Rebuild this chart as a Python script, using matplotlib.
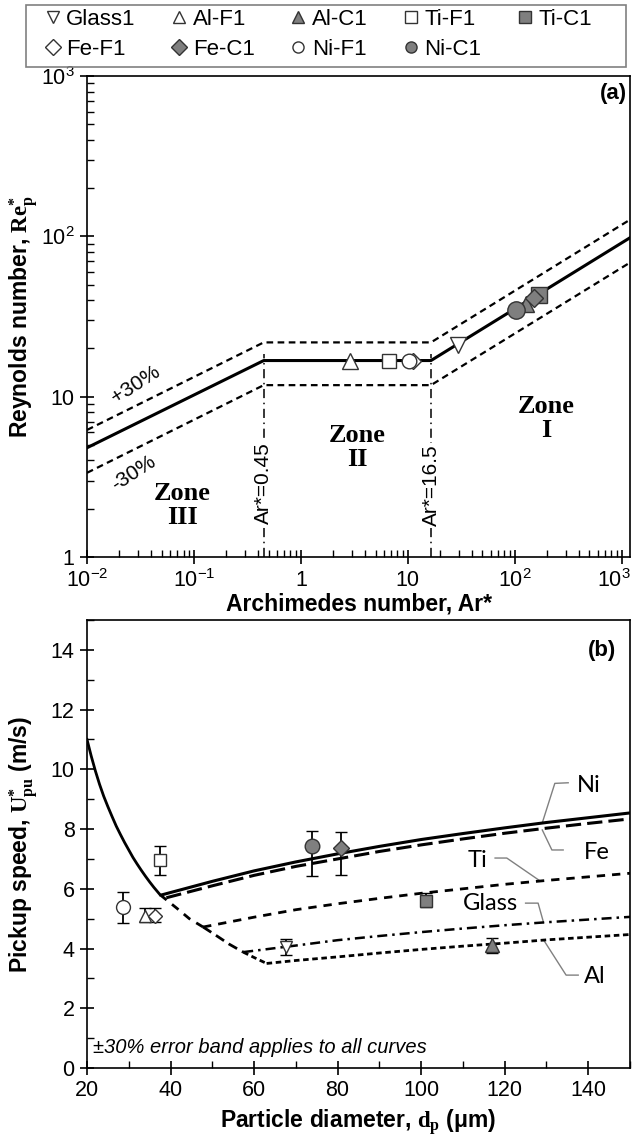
import numpy as np
import matplotlib
matplotlib.use('Agg')
import matplotlib.pyplot as plt
from matplotlib.lines import Line2D
from matplotlib.patches import Rectangle
from matplotlib.transforms import offset_copy
from matplotlib.ticker import MultipleLocator, LogLocator, NullFormatter, FixedLocator

plt.rcParams['font.family'] = ['Liberation Sans', 'DejaVu Sans']
plt.rcParams['mathtext.fontset'] = 'custom'
plt.rcParams['mathtext.rm'] = 'Liberation Serif'
plt.rcParams['mathtext.it'] = 'Liberation Serif:italic'
plt.rcParams['mathtext.bf'] = 'Liberation Serif:bold'

# ---- panel (a): Re*_p vs Ar*
ar_break = [0.01, 0.45, 16.5, 1200]
re_main = [4.8, 16.8, 16.8, 98]
re_upper = [6.2, 21.8, 21.8, 127]
re_lower = [3.35, 11.8, 11.8, 68.6]
ar_zone_limits = [0.45, 16.5]

names = ['Glass1', 'Al-F1', 'Al-C1', 'Ti-F1', 'Ti-C1', 'Fe-F1', 'Fe-C1', 'Ni-F1', 'Ni-C1']
ar_pts = [29.7, 2.9, 129, 6.7, 170, 11.2, 153, 10.3, 104]
re_pts = [21, 16.8, 38, 16.8, 43, 16.8, 41, 16.8, 34.5]

# ---- panel (b): pickup speed vs particle diameter
dp_pts = [67.7, 33.8, 117, 37.5, 101.2, 36.2, 80.9, 28.6, 73.9]
u_pts = [4.05, 5.1, 4.12, 6.95, 5.6, 5.1, 7.35, 5.4, 7.42]
u_err_lo = [0.27, 0.22, 0.27, 0.5, 0.2, 0.22, 0.9, 0.55, 1.0]
u_err_hi = [0.28, 0.25, 0.23, 0.48, 0.25, 0.25, 0.55, 0.5, 0.5]

d_left = [20, 21, 22, 23, 24, 25, 26, 27, 28, 29, 30, 31, 32, 33, 34, 35, 36, 37.5,
          41.5, 44.5, 47.8, 51, 54, 57.4, 60, 63]
u_left = [11.0, 10.45, 9.95, 9.5, 9.1, 8.75, 8.42, 8.1, 7.82, 7.55, 7.3, 7.05, 6.83,
          6.62, 6.42, 6.23, 6.05, 5.8, 5.35, 5.0, 4.72, 4.43, 4.15, 3.88, 3.7, 3.5]
d_ni = [38, 50, 60, 70, 80, 90, 100, 110, 120, 130, 140, 150]
u_ni = [5.8, 6.25, 6.6, 6.9, 7.17, 7.42, 7.65, 7.85, 8.04, 8.22, 8.38, 8.54]
d_fe = [39, 50, 60, 70, 80, 90, 100, 110, 120, 130, 140, 150]
u_fe = [5.7, 6.1, 6.45, 6.75, 7.0, 7.25, 7.47, 7.67, 7.86, 8.03, 8.19, 8.34]
d_ti = [47.8, 60, 70, 80, 90, 100, 110, 120, 130, 140, 150]
u_ti = [4.72, 5.05, 5.3, 5.5, 5.68, 5.85, 6.0, 6.15, 6.28, 6.4, 6.52]
d_glass = [57.4, 70, 80, 90, 100, 110, 120, 130, 140, 150]
u_glass = [3.88, 4.1, 4.28, 4.42, 4.55, 4.67, 4.78, 4.88, 4.97, 5.06]
d_al = [63, 70, 80, 90, 100, 110, 120, 130, 140, 150]
u_al = [3.5, 3.6, 3.72, 3.85, 3.97, 4.08, 4.18, 4.29, 4.38, 4.47]

# marker styles
markers = ['v', '^', '^', 's', 's', 'D', 'D', 'o', 'o']
filled = [False, False, True, False, True, False, True, False, True]
GRAY = '#7f7f7f'
EDGE = '#333333'
faces = [GRAY if f else 'white' for f in filled]
ms_a = [11, 11, 12, 10, 11, 8.5, 9.5, 10.5, 12.5]
ms_b = [8, 8, 9.5, 8, 8, 7, 8, 10, 10.5]

fig = plt.figure(figsize=(6.33, 11.36), dpi=100)
W, H = 633, 1136


def px_box(l, t, r, b):
    return [l / W, 1 - b / H, (r - l) / W, (b - t) / H]


ax1 = fig.add_axes(px_box(87, 76, 630, 557))
ax2 = fig.add_axes(px_box(87, 620, 630, 1068))

for ax in (ax1, ax2):
    for s in ax.spines.values():
        s.set_linewidth(1.2)
    ax.tick_params(which='major', direction='inout', length=10, width=1.2,
                   labelsize=15.5, pad=4)
    ax.tick_params(which='minor', direction='in', length=5, width=1)

# ---------------- panel (a)
ax1.set_xscale('log')
ax1.set_yscale('log')
ax1.plot(ar_break, re_main, color='black', lw=2.2, zorder=3)
ax1.plot(ar_break, re_upper, color='black', lw=1.6, ls=(0, (3, 2)), zorder=2)
ax1.plot(ar_break, re_lower, color='black', lw=1.6, ls=(0, (3, 2)), zorder=2)
for xv in ar_zone_limits:
    ax1.plot([xv, xv], [1, 18.5], color='black', lw=1.1, ls=(0, (6, 3, 1, 3)), zorder=1)

for i in range(len(names)):
    ax1.plot(ar_pts[i], re_pts[i], ls='none', marker=markers[i], ms=ms_a[i],
             mfc=faces[i], mec=EDGE, mew=1, zorder=5 if filled[i] else 4)

ax1.set_xlim(0.01, 1200)
ax1.set_ylim(1, 1000)
ax1.xaxis.set_major_locator(FixedLocator([0.01, 0.1, 1, 10, 100, 1000]))
ax1.set_xticklabels([r'$\mathdefault{10^{-2}}$', r'$\mathdefault{10^{-1}}$', '1', '10',
                     r'$\mathdefault{10^{2}}$', r'$\mathdefault{10^{3}}$'])
ax1.yaxis.set_major_locator(FixedLocator([1, 10, 100, 1000]))
ax1.set_yticklabels(['1', '10', r'$\mathdefault{10^{2}}$', r'$\mathdefault{10^{3}}$'])
ax1.xaxis.set_minor_locator(LogLocator(base=10, subs=np.arange(2, 10), numticks=30))
ax1.yaxis.set_minor_locator(LogLocator(base=10, subs=np.arange(2, 10), numticks=30))
ax1.xaxis.set_minor_formatter(NullFormatter())
ax1.yaxis.set_minor_formatter(NullFormatter())
# keep the last x label inside the figure
last = ax1.get_xticklabels()[-1]
last.set_horizontalalignment('right')
last.set_transform(offset_copy(last.get_transform(), fig=fig, x=9, y=0, units='dots'))

ax1.set_ylabel(r'Reynolds number, $\mathbf{Re}_{\mathbf{p}}^{\mathbf{*}}$',
               fontsize=16.5, fontweight='bold')
ax1.set_xlabel('Archimedes number, Ar*', fontsize=16.5, fontweight='bold')
ax1.yaxis.set_label_coords(-0.085, 0.5)
ax1.xaxis.set_label_coords(0.5, -0.073)

ax1.text(0.994, 0.985, '(a)', transform=ax1.transAxes, ha='right', va='top',
         fontsize=16, fontweight='bold')

zone_kw = dict(ha='center', va='center', family='Liberation Serif',
               fontweight='bold', fontsize=19, linespacing=1.05)
ax1.text(0.078, 2.1, 'Zone\nIII', **zone_kw)
ax1.text(3.35, 4.8, 'Zone\nII', **zone_kw)
ax1.text(199, 7.3, 'Zone\nI', **zone_kw)

lim_kw = dict(rotation=90, ha='center', va='center', fontsize=15,
              bbox=dict(facecolor='white', edgecolor='none', pad=1))
ax1.text(ar_zone_limits[0], 2.9, 'Ar*=0.45', **lim_kw)
ax1.text(ar_zone_limits[1], 2.8, 'Ar*=16.5', **lim_kw)
ax1.text(0.0283, 11.9, '+30%', rotation=33, ha='center', va='center', fontsize=15)
ax1.text(0.0273, 3.35, '-30%', rotation=33, ha='center', va='center', fontsize=15)

# ---------------- panel (b)
DASH_FE = (0, (5, 2))
DASH_TI = (0, (3, 2.5))
DASH_GL = (0, (4, 2, 1, 2))
DASH_AL = (0, (2, 1.3))

ax2.plot(d_left[:18], u_left[:18], color='black', lw=2, zorder=3)
ax2.plot(d_left[17:21], u_left[17:21], color='black', lw=2, ls=DASH_TI, zorder=3)
ax2.plot(d_left[20:24], u_left[20:24], color='black', lw=2, ls=(0, (3.5, 2)), zorder=3)
ax2.plot(d_left[23:], u_left[23:], color='black', lw=2, ls=DASH_AL, zorder=3)
ax2.plot(d_ni, u_ni, color='black', lw=2.2, zorder=3)
ax2.plot(d_fe, u_fe, color='black', lw=2.2, ls=DASH_FE, zorder=3)
ax2.plot(d_ti, u_ti, color='black', lw=2, ls=DASH_TI, zorder=3)
ax2.plot(d_glass, u_glass, color='black', lw=1.8, ls=DASH_GL, zorder=3)
ax2.plot(d_al, u_al, color='black', lw=2, ls=DASH_AL, zorder=3)

for i in range(len(names)):
    ax2.errorbar(dp_pts[i], u_pts[i], yerr=[[u_err_lo[i]], [u_err_hi[i]]],
                 fmt=markers[i], ms=ms_b[i], mfc=faces[i], mec=EDGE, mew=1,
                 ecolor='black', elinewidth=1.3, capsize=4.5, capthick=1.3, zorder=5)

# curve labels with leader lines
lab_kw = dict(fontsize=17, family=['Lato', 'DejaVu Sans'], va='center')
lead_kw = dict(color='#808080', lw=1, zorder=2)
ax2.plot([129.0, 132.0, 135.2], [8.21, 9.53, 9.55], **lead_kw)
ax2.text(137.4, 9.47, 'Ni', ha='left', **lab_kw)
ax2.plot([129.0, 131.3, 134.0], [7.97, 7.3, 7.3], **lead_kw)
ax2.text(139, 7.23, 'Fe', ha='left', **lab_kw)
ax2.plot([117.7, 120.5, 128.5], [7.03, 7.03, 6.26], **lead_kw)
ax2.text(113.6, 6.96, 'Ti', ha='center', **lab_kw)
ax2.plot([125.0, 128.0, 129.3], [5.52, 5.52, 4.87], **lead_kw)
ax2.text(116.5, 5.52, 'Glass', ha='center', **lab_kw)
ax2.plot([129.3, 134.7, 137.6], [4.29, 3.11, 3.11], **lead_kw)
ax2.text(139, 3.05, 'Al', ha='left', **lab_kw)

ax2.text(21.4, 0.7, '±30% error band applies to all curves', style='italic',
         fontsize=14.5, va='center', ha='left')

ax2.set_xlim(20, 150)
ax2.set_ylim(0, 15)
ax2.xaxis.set_major_locator(FixedLocator(list(range(20, 141, 20))))
ax2.xaxis.set_minor_locator(MultipleLocator(10))
ax2.yaxis.set_major_locator(FixedLocator(list(range(0, 15, 2))))
ax2.yaxis.set_minor_locator(MultipleLocator(1))
ax2.set_ylabel(r'Pickup speed, $\mathbf{U^{*}_{pu}}$ (m/s)', fontsize=16.5, fontweight='bold')
ax2.set_xlabel(r'Particle diameter, $\mathbf{d_{p}}$ (μm)', fontsize=16.5, fontweight='bold')
ax2.yaxis.set_label_coords(-0.085, 0.5)
ax2.xaxis.set_label_coords(0.5, -0.088)
ax2.text(0.974, 0.955, '(b)', transform=ax2.transAxes, ha='right', va='top',
         fontsize=16, fontweight='bold')

# ---------------- legend (row-major order as in the figure)
handles = [Line2D([], [], ls='none', marker=markers[i], ms=8, mfc=faces[i],
                  mec=EDGE, mew=1) for i in range(len(names))]
order = [0, 5, 1, 6, 2, 7, 3, 8, 4]
fig.legend([handles[i] for i in order], [names[i] for i in order],
           ncol=5, loc='upper left', bbox_to_anchor=(45 / W, 1 - 9 / H),
           fontsize=16, handlelength=0.7, handletextpad=0.25,
           columnspacing=1.62, borderpad=0, labelspacing=0.4,
           frameon=False, borderaxespad=0)
fig.patches.append(Rectangle((26 / W, 1 - 67 / H), 600 / W, 62 / H,
                             transform=fig.transFigure, fill=False,
                             edgecolor='#808080', linewidth=1.2))

fig.savefig('out.png', dpi=100)
